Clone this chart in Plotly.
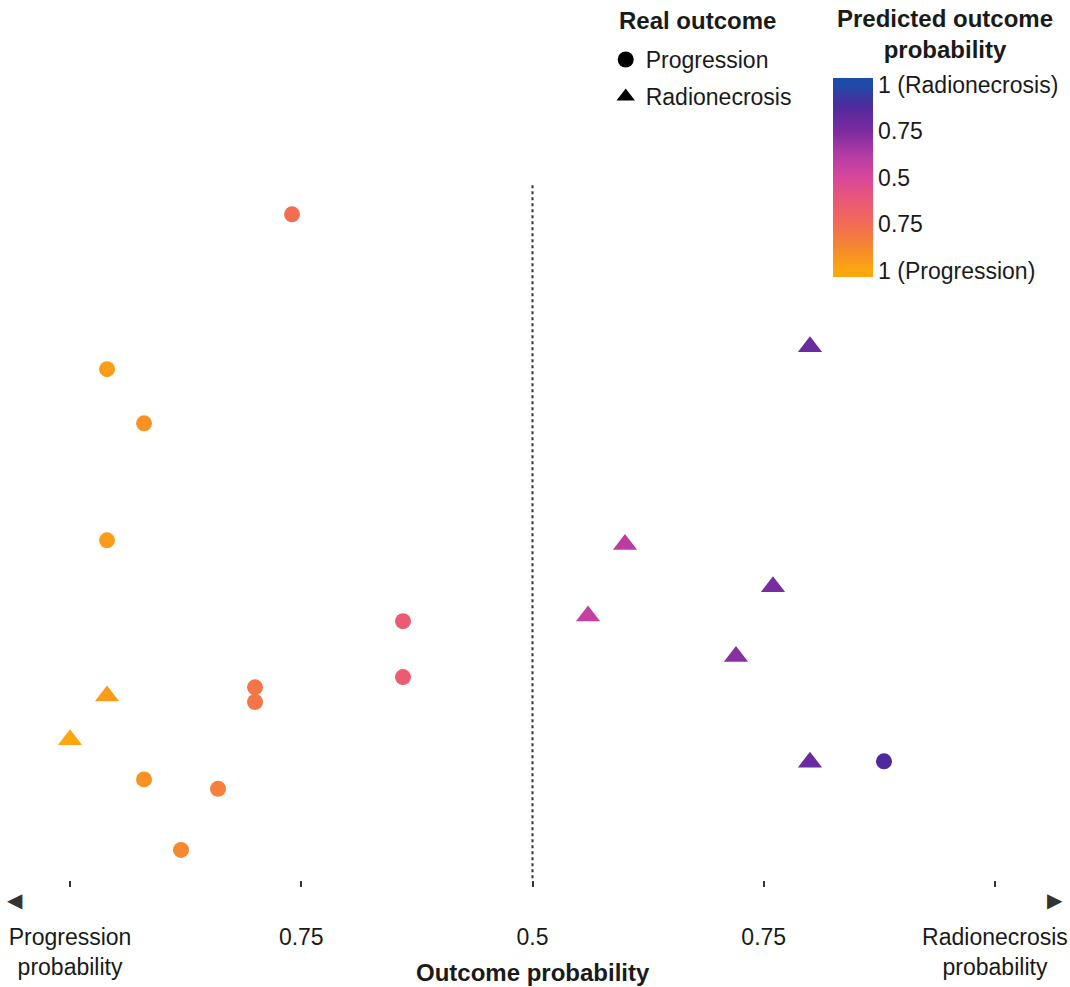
import plotly.graph_objects as go

# Radionecrosis probability (0 = progression prob 1, 1 = radionecrosis prob 1)
prob_radionecrosis = [0.24, 0.80, 0.04, 0.08, 0.04, 0.60, 0.76, 0.56, 0.36, 0.72,
                      0.36, 0.20, 0.20, 0.04, 0.00, 0.88, 0.80, 0.08, 0.16, 0.12]
# Vertical position of each patient (arbitrary ordering)
patient_pos = [77.4, 62.0, 59.4, 53.1, 39.5, 39.0, 34.1, 30.7, 30.1, 26.0,
               23.6, 22.4, 20.7, 21.4, 16.3, 13.8, 13.7, 11.7, 10.6, 3.5]
real_outcome = ["Progression", "Radionecrosis", "Progression", "Progression", "Progression",
                "Radionecrosis", "Radionecrosis", "Radionecrosis", "Progression", "Radionecrosis",
                "Progression", "Progression", "Progression", "Radionecrosis", "Radionecrosis",
                "Progression", "Radionecrosis", "Progression", "Progression", "Progression"]

xtick_vals = [0, 0.25, 0.5, 0.75, 1]
xtick_text = ["Progression<br>probability", "0.75", "0.5", "0.75", "Radionecrosis<br>probability"]
cbar_text = ["1 (Progression)", "0.75", "0.5", "0.75", "1 (Radionecrosis)"]

# colour stops given in probability units
color_stops = [
    (-0.035, "#FDA70E"), (0.0, "#FDA70E"), (0.12, "#F6882F"), (0.25, "#F26B55"),
    (0.38, "#EA5878"), (0.5, "#D8479A"), (0.62, "#B43BA4"), (0.75, "#7B2CA0"),
    (0.88, "#502A9C"), (1.0, "#1E4BA8"), (1.035, "#1E4BA8"),
]
CMIN, CMAX = -0.035, 1.035
colorscale = [[(v - CMIN) / (CMAX - CMIN), c] for v, c in color_stops]

FONT = "Liberation Sans, Arial, sans-serif"
TXT = "#1a1a1a"
FS = 23
FSB = 24

fig = go.Figure()

for outcome, symbol, size in [("Progression", "circle", 16), ("Radionecrosis", "triangle-up", 21)]:
    xs = [x for x, o in zip(prob_radionecrosis, real_outcome) if o == outcome]
    ys = [y for y, o in zip(patient_pos, real_outcome) if o == outcome]
    fig.add_trace(go.Scatter(
        x=xs, y=ys, mode="markers", showlegend=False,
        marker=dict(symbol=symbol, size=size, color=xs, coloraxis="coloraxis",
                    line=dict(width=0)),
    ))

# legend entries (black symbols)
fig.add_trace(go.Scatter(x=[None], y=[None], mode="markers", name="Progression",
                         legendgroup="a",
                         marker=dict(symbol="circle", size=16, color="black")))
fig.add_trace(go.Scatter(x=[None], y=[None], mode="markers", name="Radionecrosis",
                         legendgroup="b",
                         marker=dict(symbol="triangle-up", size=21, color="black")))

fig.add_shape(type="line", x0=0.5, x1=0.5, y0=-0.5, y1=81, xref="x", yref="y",
              line=dict(color="#333333", width=2, dash="dot"))

fig.update_layout(
    width=1070, height=987,
    margin=dict(l=15, r=15, t=20, b=107, autoexpand=False),
    paper_bgcolor="white", plot_bgcolor="white",
    font=dict(family=FONT, size=FS, color=TXT),
    xaxis=dict(range=[-0.0595, 1.0649], showgrid=False, zeroline=False, showline=False,
               automargin=False,
               tickvals=xtick_vals, ticktext=xtick_text, ticks="outside",
               ticklen=6, tickwidth=2, tickcolor="#333333",
               ticklabelstandoff=30,
               tickfont=dict(size=FS, color=TXT)),
    yaxis=dict(range=[0, 100], visible=False, showgrid=False, zeroline=False),
    coloraxis=dict(
        cmin=CMIN, cmax=CMAX, colorscale=colorscale,
        colorbar=dict(x=0.7865, xanchor="left", xpad=0, thickness=40,
                      lenmode="pixels", len=199, y=0.8169, yanchor="middle", ypad=0,
                      outlinewidth=0, ticks="",
                      tickvals=xtick_vals, ticktext=cbar_text,
                      tickfont=dict(size=FS, color=TXT)),
    ),
    legend=dict(x=0.568, xanchor="left", y=0.979, yanchor="top",
                font=dict(size=FS, color=TXT), bgcolor="rgba(0,0,0,0)",
                traceorder="grouped", tracegroupgap=4),
)

fig.add_annotation(text="<b>Outcome probability</b>", xref="paper", yref="paper",
                   x=(533 - 15) / 1040, y=(880 - 972) / 860, xanchor="center", yanchor="middle",
                   showarrow=False, font=dict(size=FSB, color=TXT))
fig.add_annotation(text="<b>Real outcome</b>", xref="paper", yref="paper",
                   x=(697 - 15) / 1040, y=(880 - 20) / 860, xanchor="center", yanchor="middle",
                   showarrow=False, font=dict(size=FSB, color=TXT))
fig.add_annotation(text="<b>Predicted outcome<br>probability</b>", xref="paper", yref="paper",
                   x=(945 - 15) / 1040, y=(880 - 34) / 860, xanchor="center", yanchor="middle",
                   showarrow=False, font=dict(size=FSB, color=TXT))
fig.add_annotation(text="◀", xref="paper", yref="paper", x=0, y=(880 - 900) / 860,
                   xanchor="center", yanchor="middle", showarrow=False,
                   font=dict(size=20, color="#333333", family="DejaVu Sans"))
fig.add_annotation(text="▶", xref="paper", yref="paper", x=1, y=(880 - 900) / 860,
                   xanchor="center", yanchor="middle", showarrow=False,
                   font=dict(size=20, color="#333333", family="DejaVu Sans"))

fig.write_html("out.html")
